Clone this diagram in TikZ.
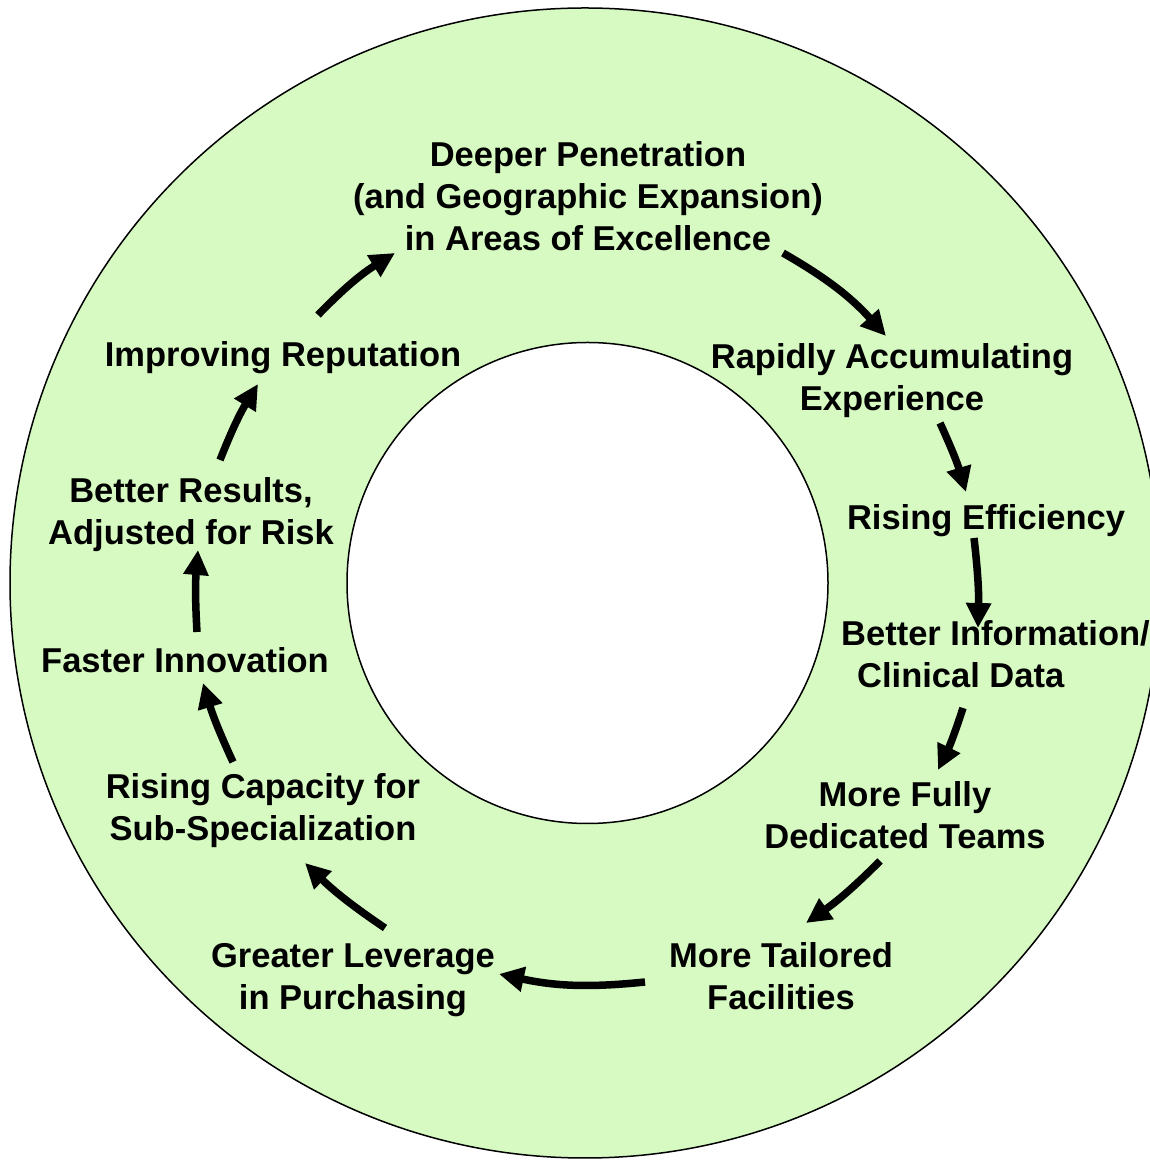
\documentclass[tikz,border=0pt]{standalone}
\usepackage{fontspec}
\setmainfont{Liberation Sans}
\usetikzlibrary{arrows.meta}
\definecolor{ringgreen}{HTML}{D6FAC2}
\tikzset{
  lbl/.style={font=\fontsize{34.5}{42}\selectfont\bfseries, align=center, inner sep=0pt, anchor=base},
  cyc/.style={line width=7.5pt, -{Triangle[length=25pt,width=24pt]}},
}
\begin{document}
\begin{tikzpicture}[x=1pt,y=1pt]
\useasboundingbox (0,0) rectangle (1150,1160);
\clip (0,0) rectangle (1150,1160);
% rings
\path[draw=black, line width=1.5pt, fill=ringgreen] (585,577) circle (575);
\path[draw=black, line width=1.5pt, fill=white] (587.5,577) circle (240.5);
% labels (base of last line)
\node[lbl] (n1) at (588,909) {Deeper Penetration\\(and Geographic Expansion)\\in Areas of Excellence};
\node[lbl] (n2) at (892,749) {Rapidly Accumulating\\Experience};
\node[lbl] (n3) at (986,630) {Rising Efficiency};
\node[lbl, align=left, anchor=base west] (n4) at (841,472) {Better Information/\\\hspace*{16pt}Clinical Data};
\node[lbl] (n5) at (905,311) {More Fully\\Dedicated Teams};
\node[lbl] (n6) at (781,150) {More Tailored\\Facilities};
\node[lbl] (n7) at (353,150) {Greater Leverage\\in Purchasing};
\node[lbl] (n8) at (263,319) {Rising Capacity for\\Sub-Specialization};
\node[lbl] (n9) at (185,487) {Faster Innovation};
\node[lbl] (n10) at (191,615) {Better Results,\\Adjusted for Risk};
\node[lbl] (n11) at (283,793) {Improving Reputation};
% arrow end points
\coordinate (a1s) at (318,845); \coordinate (a1e) at (395,907);
\coordinate (a2s) at (783,907); \coordinate (a2e) at (886,824);
\coordinate (a3s) at (940,737); \coordinate (a3e) at (966,668);
\coordinate (a4s) at (974,622); \coordinate (a4e) at (978,532);
\coordinate (a5s) at (963,452); \coordinate (a5e) at (938,390);
\coordinate (a6s) at (880,299); \coordinate (a6e) at (806,237);
\coordinate (a7s) at (645,178); \coordinate (a7e) at (499,186);
\coordinate (a8s) at (385,232); \coordinate (a8e) at (305,297);
\coordinate (a9s) at (233,398); \coordinate (a9e) at (203,477);
\coordinate (a10s) at (197,528); \coordinate (a10e) at (198,610);
\coordinate (a11s) at (220,700); \coordinate (a11e) at (258,776);
% arrows
\draw[cyc] (a1s) to[bend left=7] (a1e);
\draw[cyc] (a2s) to[bend left=9] (a2e);
\draw[cyc] (a3s) to[bend left=4] (a3e);
\draw[cyc] (a4s) to[bend left=4] (a4e);
\draw[cyc] (a5s) to[bend left=4] (a5e);
\draw[cyc] (a6s) to[bend left=5] (a6e);
\draw[cyc] (a7s) to[bend left=9] (a7e);
\draw[cyc] (a8s) to[bend left=5] (a8e);
\draw[cyc] (a9s) to[bend left=4] (a9e);
\draw[cyc] (a10s) to[bend left=4] (a10e);
\draw[cyc] (a11s) to[bend left=5] (a11e);
\end{tikzpicture}
\end{document}
